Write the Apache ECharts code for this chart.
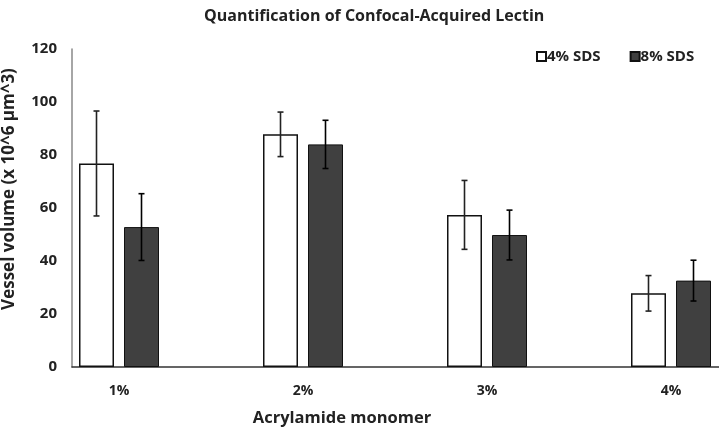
<!DOCTYPE html>
<html>
<head>
<meta charset="utf-8">
<script src="https://cdn.jsdelivr.net/npm/echarts@6/dist/echarts.min.js"></script>
<style>
html,body{margin:0;padding:0;background:#fff;}
#chart{width:719px;height:429px;}
</style>
</head>
<body>
<div id="chart"></div>
<script>
const categories = ['1%', '2%', '3%', '4%'];
const sds4 = [76.8, 87.8, 57.4, 27.8];
const sds8 = [52.8, 84.0, 49.8, 32.6];
const err4 = [19.8, 8.4, 13.0, 6.7];
const err8 = [12.6, 9.1, 9.4, 7.7];
const yTicks = [0, 20, 40, 60, 80, 100, 120];

const FONT = 'Open Sans';
const BAR_W = 35;
const GAP = 10;
const N_SLOTS = 4;
const groupW = N_SLOTS * BAR_W + (N_SLOTS - 1) * GAP;
const off0 = -groupW / 2 + BAR_W / 2;
const off1 = off0 + BAR_W + GAP;

function errData(vals, errs) {
  return vals.map((v, i) => [i, v, errs[i]]);
}
function errRender(offset, color) {
  return function (params, api) {
    const i = api.value(0), v = api.value(1), e = api.value(2);
    const c = api.coord([i, v]);
    const t = api.coord([i, v + e]);
    const b = api.coord([i, v - e]);
    const x = c[0] + offset;
    const cap = 3;
    const st = { stroke: color, lineWidth: 1.6 };
    return {
      type: 'group',
      children: [
        { type: 'line', shape: { x1: x, y1: t[1], x2: x, y2: b[1] }, style: st },
        { type: 'line', shape: { x1: x - cap, y1: t[1], x2: x + cap, y2: t[1] }, style: st },
        { type: 'line', shape: { x1: x - cap, y1: b[1], x2: x + cap, y2: b[1] }, style: st }
      ]
    };
  };
}

const chart = echarts.init(document.getElementById('chart'));
chart.setOption({
  animation: false,
  backgroundColor: '#ffffff',
  textStyle: { fontFamily: FONT },
  title: {
    text: 'Quantification of Confocal-Acquired Lectin',
    left: 199, top: 3,
    textStyle: { fontFamily: FONT, fontWeight: 'bold', fontSize: 16, color: '#222' }
  },
  legend: {
    data: ['4% SDS', '8% SDS'],
    left: 531, top: 44,
    itemWidth: 9, itemHeight: 9, itemGap: 29,
    icon: 'rect',
    textStyle: { fontFamily: FONT, fontWeight: 'bold', fontSize: 15, color: '#222', padding: [0, 0, 0, -4] }
  },
  grid: { left: 72, top: 49, width: 736, height: 318, containLabel: false, outerBoundsMode: 'none' },
  xAxis: {
    type: 'category',
    data: categories,
    axisLine: { lineStyle: { color: '#333', width: 1.5 } },
    axisTick: { show: false },
    axisLabel: {
      fontFamily: FONT, fontWeight: 'bold', fontSize: 14, color: '#222',
      margin: 17, padding: [0, 90, 0, 0]
    },
    name: 'Acrylamide monomer',
    nameLocation: 'middle',
    nameGap: 43,
    nameTextStyle: { fontFamily: FONT, fontWeight: 'bold', fontSize: 16.5, color: '#222', padding: [0, 196, 0, 0] }
  },
  yAxis: {
    type: 'value',
    min: 0, max: 120, interval: 20,
    axisLine: { show: true, lineStyle: { color: '#888', width: 1.5 } },
    axisTick: { show: false },
    splitLine: { show: false },
    axisLabel: {
      fontFamily: FONT, fontWeight: 'bold', fontSize: 15, color: '#222', margin: 15,
      formatter: function (v) { return yTicks.indexOf(v) >= 0 ? String(v) : ''; }
    },
    name: 'Vessel volume (x 10^6 µm^3)',
    nameLocation: 'middle',
    nameRotate: 90,
    nameGap: 54,
    nameTextStyle: { fontFamily: FONT, fontWeight: 'bold', fontSize: 17, color: '#222', padding: [0, 0, 0, 38] }
  },
  series: [
    {
      name: '4% SDS', type: 'bar', data: sds4,
      barWidth: BAR_W, barGap: (GAP / BAR_W * 100) + '%',
      itemStyle: { color: '#ffffff', borderColor: '#111', borderWidth: 1.5 }
    },
    {
      name: '8% SDS', type: 'bar', data: sds8,
      barWidth: BAR_W, barGap: (GAP / BAR_W * 100) + '%',
      itemStyle: { color: '#404040', borderColor: '#111', borderWidth: 1 }
    },
    { name: 'slot3', type: 'bar', data: ['-', '-', '-', '-'], barWidth: BAR_W, barGap: (GAP / BAR_W * 100) + '%' },
    { name: 'slot4', type: 'bar', data: ['-', '-', '-', '-'], barWidth: BAR_W, barGap: (GAP / BAR_W * 100) + '%' },
    {
      type: 'custom', z: 5, silent: true,
      data: errData(sds4, err4), encode: { x: 0, y: 1 },
      renderItem: errRender(off0, '#222')
    },
    {
      type: 'custom', z: 5, silent: true,
      data: errData(sds8, err8), encode: { x: 0, y: 1 },
      renderItem: errRender(off1, '#000')
    }
  ]
});
</script>
</body>
</html>
